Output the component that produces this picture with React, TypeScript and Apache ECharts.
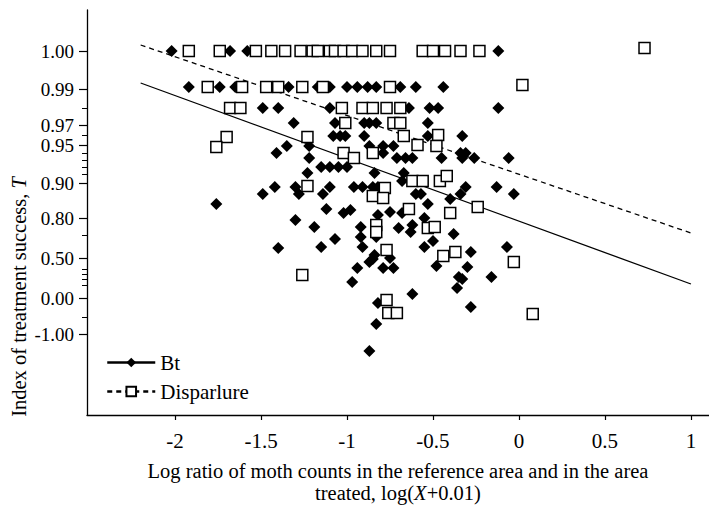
import React, { useEffect, useRef } from "react";
import * as echarts from "echarts";

const FONT = '"Liberation Serif", "Times New Roman", serif';

// x ticks
const xTickValues = [-2, -1.5, -1, -0.5, 0, 0.5, 1];
// y axis (transformed index scale): tick positions and their labels
const yTickPos = [364, 326, 290, 270, 232, 197, 157, 117, 81];
const yTickLabels = ["1.00", "0.99", "0.97", "0.95", "0.90", "0.80", "0.50", "0.00", "-1.00"];
const yMinorPos = [307, 280, 262, 255, 248, 241, 180, 146, 141, 136, 130, 98];

// Bt observations [log ratio, index position]
const btPoints: number[][] = [
  [-2.02, 364], [-1.68, 364], [-1.58, 364], [-0.12, 364],
  [-1.92, 328], [-1.74, 328], [-1.65, 328], [-1.34, 328], [-1.17, 328], [-1.1, 328], [-1.0, 328],
  [-0.94, 328], [-0.88, 328], [-0.83, 328], [-0.69, 328], [-0.6, 328], [-0.44, 328],
  [-1.49, 307], [-1.4, 307], [-1.1, 307], [-0.64, 307], [-0.52, 307], [-0.47, 307], [-0.12, 307],
  [-1.31, 292], [-1.07, 292], [-0.9, 292], [-0.87, 292], [-0.83, 292], [-0.53, 292],
  [-1.08, 279], [-1.04, 279], [-1.01, 279], [-0.9, 279], [-0.53, 279], [-0.33, 279],
  [-1.35, 269], [-1.22, 269], [-0.87, 269], [-0.79, 269], [-0.73, 269],
  [-1.41, 262], [-0.79, 262], [-0.34, 262], [-0.31, 262],
  [-1.22, 257], [-0.71, 257], [-0.66, 257], [-0.62, 257], [-0.45, 257], [-0.33, 257], [-0.26, 257], [-0.06, 257],
  [-1.15, 248], [-1.1, 248], [-1.05, 248], [-1.0, 248],
  [-1.23, 242], [-0.84, 242], [-0.67, 242],
  [-0.68, 234],
  [-1.42, 228], [-1.3, 228], [-1.1, 228], [-0.96, 228], [-0.91, 228], [-0.85, 228], [-0.82, 228], [-0.31, 228], [-0.13, 228],
  [-1.49, 221], [-1.28, 221], [-1.14, 221], [-0.6, 221], [-0.57, 221], [-0.34, 221], [-0.03, 221],
  [-0.4, 216], [-1.76, 211], [-0.53, 211],
  [-1.12, 206], [-0.98, 205], [-1.02, 202], [-0.68, 202], [-0.75, 203], [-0.82, 200],
  [-0.55, 197], [-1.3, 195],
  [-1.19, 188], [-0.92, 188], [-0.7, 187], [-0.62, 190],
  [-0.63, 183], [-0.38, 181], [-0.83, 178], [-0.92, 178], [-1.07, 176], [-0.5, 174],
  [-0.91, 168], [-1.15, 168], [-0.55, 168], [-0.07, 168], [-1.4, 167],
  [-0.28, 163], [-0.84, 160], [-0.85, 156], [-0.87, 153], [-0.75, 157],
  [-0.94, 147], [-0.79, 147], [-0.73, 147], [-0.48, 149], [-0.3, 148],
  [-0.97, 133], [-0.16, 138], [-0.35, 138], [-0.33, 136],
  [-0.36, 127], [-0.62, 121],
  [-0.82, 112], [-0.28, 108],
  [-0.83, 91], [-0.87, 64],
];

// Disparlure observations [log ratio, index position]
const dispPoints: number[][] = [
  [-1.92, 364], [-1.74, 364], [-1.53, 364], [-1.44, 364], [-1.36, 364], [-1.27, 364], [-1.2, 364],
  [-1.17, 364], [-1.1, 364], [-1.07, 364], [-1.02, 364], [-0.97, 364], [-0.91, 364], [-0.83, 364],
  [-0.75, 364], [-0.56, 364], [-0.5, 364], [-0.43, 364], [-0.34, 364], [-0.23, 364], [0.73, 367],
  [-1.81, 328], [-1.61, 328], [-1.47, 328], [-1.4, 328], [-1.26, 328], [-1.14, 328], [-0.75, 328], [0.02, 330],
  [-1.68, 307], [-1.62, 307], [-1.03, 307], [-0.91, 307], [-0.85, 307], [-0.77, 307], [-0.69, 307],
  [-1.01, 292], [-0.73, 292], [-0.69, 292],
  [-1.7, 278], [-1.23, 278], [-0.67, 279], [-0.47, 280],
  [-1.76, 268], [-0.59, 270], [-0.48, 269],
  [-1.02, 262], [-0.96, 257], [-0.85, 262],
  [-0.62, 234], [-0.56, 234], [-0.46, 234], [-0.42, 239],
  [-1.23, 229], [-0.78, 227],
  [-0.85, 219], [-0.79, 217],
  [-0.64, 206], [-0.24, 208], [-0.4, 202],
  [-0.83, 190], [-0.83, 183], [-0.53, 187], [-0.49, 188],
  [-0.77, 165], [-0.44, 159], [-0.37, 163], [-0.03, 153],
  [-1.26, 140],
  [-0.77, 115], [-0.76, 102], [-0.71, 102], [0.08, 101],
];

// fitted regression lines
const btLine: number[][] = [[-2.2, 332], [1.0, 131]];
const dispLine: number[][] = [[-2.2, 370], [1.0, 182]];

export default function App() {
  const ref = useRef<HTMLDivElement>(null);
  useEffect(() => {
    const chart = echarts.init(ref.current!, null, { renderer: "svg" });
    const labelMap: Record<string, string> = {};
    yTickPos.forEach((p, i) => (labelMap[String(p)] = yTickLabels[i]));
    chart.setOption({
      animation: false,
      backgroundColor: "#fff",
      textStyle: { fontFamily: FONT, color: "#000" },
      grid: { left: 87, right: 0, top: 10, bottom: 94, containLabel: false },
      xAxis: {
        type: "value",
        min: -2.512,
        max: 1.105,
        splitLine: { show: false },
        axisLine: { onZero: false, lineStyle: { color: "#000", width: 1.3 } },
        axisTick: { customValues: xTickValues, length: 5, lineStyle: { color: "#000", width: 1.2 } },
        axisLabel: {
          customValues: xTickValues,
          margin: 15,
          fontSize: 21,
          fontFamily: FONT,
          color: "#000",
          formatter: (v: number) => String(v),
        },
        name: "Log ratio of moth counts in the reference area and in the area\ntreated, log({i|X}+0.01)",
        nameLocation: "middle",
        nameGap: 45,
        nameTextStyle: {
          fontSize: 20.5,
          fontFamily: FONT,
          color: "#000",
          lineHeight: 22,
          rich: { i: { fontStyle: "italic", fontSize: 20.5, fontFamily: FONT, color: "#000", lineHeight: 22 } },
        },
      },
      yAxis: [
        {
          type: "value",
          min: 0,
          max: 405,
          splitLine: { show: false },
          axisLine: { show: true, onZero: false, lineStyle: { color: "#000", width: 1.3 } },
          axisTick: { show: true, customValues: yTickPos, length: 8, lineStyle: { color: "#000", width: 1.2 } },
          axisLabel: {
            customValues: yTickPos,
            margin: 13,
            fontSize: 19,
            lineHeight: 17,
            fontFamily: FONT,
            color: "#000",
            formatter: (v: number) => labelMap[String(v)] ?? "",
          },
        },
        {
          type: "value",
          min: 0,
          max: 405,
          position: "left",
          offset: 0,
          splitLine: { show: false },
          axisLine: { show: false, onZero: false },
          axisTick: { show: true, customValues: yMinorPos, length: 5, lineStyle: { color: "#000", width: 1 } },
          axisLabel: { show: false },
        },
      ],
      legend: {
        data: ["Bt", "Disparlure"],
        orient: "vertical",
        left: 106,
        top: 352,
        padding: 0,
        itemWidth: 48,
        itemHeight: 12,
        itemGap: 8,
        textStyle: { fontSize: 21, fontFamily: FONT, color: "#000" },
        lineStyle: { width: 2.5 },
      },
      graphic: [
        {
          type: "text",
          x: 19,
          y: 297,
          rotation: Math.PI / 2,
          style: {
            text: "Index of treatment success, {i|T}",
            fontSize: 20.5,
            fontFamily: FONT,
            fill: "#000",
            align: "center",
            verticalAlign: "middle",
            rich: { i: { fontStyle: "italic", fontSize: 20.5, fontFamily: FONT, fill: "#000" } },
          },
        },
      ],
      series: [
        {
          name: "Bt",
          type: "line",
          data: btLine,
          symbol: "diamond",
          symbolSize: 11,
          showSymbol: false,
          itemStyle: { color: "#000", opacity: 1 },
          lineStyle: { color: "#000", width: 1.3 },
          z: 1,
        },
        {
          name: "Disparlure",
          type: "line",
          data: dispLine,
          symbol: "rect",
          symbolSize: 10,
          showSymbol: false,
          itemStyle: { color: "#fff", borderColor: "#000", borderWidth: 1.5, opacity: 1 },
          lineStyle: { color: "#000", width: 1.3, type: [5, 4] },
          z: 1,
        },
        {
          name: "Bt obs",
          type: "scatter",
          data: btPoints,
          symbol: "diamond",
          symbolSize: 12,
          itemStyle: { color: "#000", opacity: 1 },
          z: 2,
        },
        {
          name: "Disparlure obs",
          type: "scatter",
          data: dispPoints,
          symbol: "rect",
          symbolSize: 11,
          itemStyle: { color: "#fff", borderColor: "#000", borderWidth: 1.5, opacity: 1 },
          z: 3,
        },
      ],
    });
    return () => chart.dispose();
  }, []);
  return (
    <div
      ref={ref}
      style={{ position: "fixed", left: 0, top: 0, width: 709, height: 509, background: "#fff" }}
    />
  );
}
